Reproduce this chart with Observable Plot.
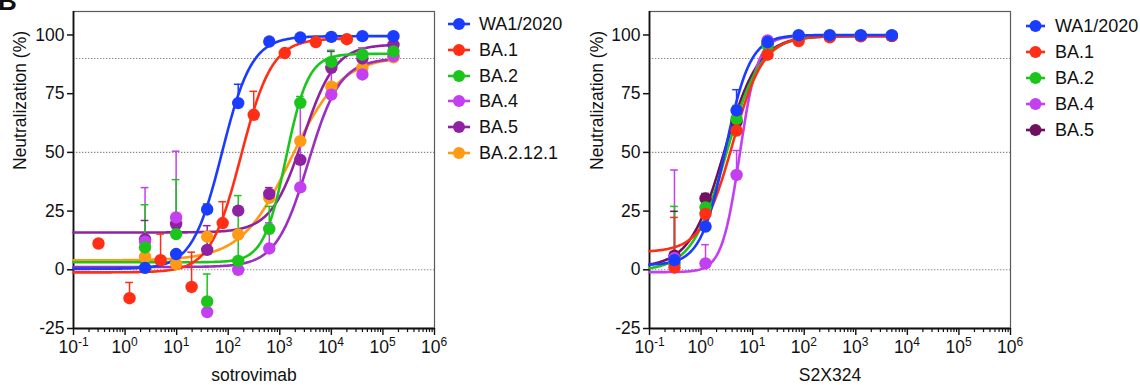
<!DOCTYPE html>
<html>
<head>
<meta charset="utf-8">
<script src="https://cdn.jsdelivr.net/npm/d3@7"></script>
<script src="https://cdn.jsdelivr.net/npm/@observablehq/plot@0.6"></script>
<style>
  html, body { margin: 0; padding: 0; background: #fff; }
  #wrap { position: relative; width: 1140px; height: 385px; overflow: hidden;
          font-family: "Liberation Sans", Arial, sans-serif; color: #111; }
  #wrap svg.panel { position: absolute; top: 0; }
  .legend-row { position: absolute; display: flex; align-items: center; height: 20px;
                font-size: 18px; line-height: 20px; white-space: nowrap; }
  .legend-row svg { display: block; flex: none; }
</style>
</head>
<body>
<div id="wrap"></div>
<script>
// ---- Dilution series (antibody concentration, ng/mL) ----
const concHigh = [2.44, 9.77, 39.1, 156.3, 625, 2500, 10000, 40000, 160000];
const concLow  = [0.305, 1.22, 4.88, 19.5, 78.1, 312.5, 1250, 5000, 20000];
const concS2X  = [0.305, 1.22, 4.88, 19.5, 78.1, 312.5, 1250, 5000];

// ---- Sotrovimab panel ----
const sotroVariants = ["WA1/2020", "BA.1", "BA.2", "BA.4", "BA.5", "BA.2.12.1"];
const sotroColors   = ["#1a3cff", "#ff2e14", "#1cc51c", "#c33ff0", "#8e22a2", "#ff9a14"];
const sotroCurveColors = ["#1a3cff", "#ff2e14", "#1cc51c", "#9c2fbf", "#8e22a2", "#ff9a14"];
const sotroConc = [concHigh, concLow, concHigh, concHigh, concHigh, concHigh];
const sotroMean = [
  [0.8, 6.7, 25.7, 71, 97.2, 98.9, 99.2, 99.5, 99.5],
  [11.2, -12.1, 4.1, -7.3, 19.9, 66, 92.3, 97, 98.2],
  [9.5, 15.2, -13.5, 3.8, 17.4, 71.1, 88.5, 91.6, 93],
  [12, 22.3, -18, 0, 9.1, 35.1, 74.6, 83.2, 91],
  [13, 19.5, 8.5, 25.2, 32.3, 46.8, 86, 90, 95.8],
  [5.5, 2.5, 14.1, 15, 30.6, 54.8, 78, 86, 90.5]
];
const sotroUpper = [
  [null, null, 28, 79, null, null, null, null, null],
  [null, -5.4, 15.2, 7.5, 29, 76, null, null, null],
  [27.7, 38.4, -1.8, 31.6, 27, 73.8, 93.5, null, null],
  [35, 50.5, null, null, 20, 72, 86, 94.5, null],
  [21, null, 18.8, null, 35, null, 93, null, null],
  [null, null, null, null, null, null, null, null, null]
];
// four-parameter logistic fits: [bottom, top, log10 EC50, Hill slope]
const sotroFit = [
  [0.4, 99.5, 1.88, 1.5],
  [-1.1, 98.5, 2.25, 1.45],
  [3.2, 92, 3.12, 2.0],
  [1.2, 90, 3.55, 1.4],
  [15.9, 96, 3.45, 1.4],
  [4, 91, 3.22, 0.9]
];

// ---- S2X324 panel ----
const s2xVariants = ["WA1/2020", "BA.1", "BA.2", "BA.4", "BA.5"];
const s2xColors   = ["#1a3cff", "#ff2e14", "#1cc51c", "#c33ff0", "#701060"];
const s2xMean = [
  [4.1, 18.4, 67.9, 97, 99.9, 99.9, 99.9, 99.9],
  [1, 23.8, 59.3, 91.6, 97.4, 99, 99.4, 99.5],
  [2.5, 26.6, 64.2, 95.5, 99, 99.5, 99.6, 99.6],
  [5, 2.7, 40.4, 97.7, 99.3, 99.5, 99.6, 99.6],
  [6, 30.4, 63, 96, 99, 99.5, 99.6, 99.6]
];
const s2xUpper = [
  [null, null, 76.7, null, null, null, null, null],
  [22.3, null, null, null, null, null, null, null],
  [27, null, 70, null, null, null, null, null],
  [42.5, 10.7, 50.8, null, null, null, null, null],
  [24.9, 32.5, null, null, null, null, null, null]
];
const s2xFit = [
  [2, 100, 0.47, 1.8],
  [7.5, 99.5, 0.61, 1.45],
  [-0.5, 99.7, 0.49, 1.3],
  [-1, 99.5, 0.75, 2.5],
  [1, 99.6, 0.45, 1.3]
];

// ---- Axis ticks ----
const yTicks = [-25, 0, 25, 50, 75, 100];
const refLines = [90, 50, 0];
const decadeExps = [-1, 0, 1, 2, 3, 4, 5, 6];
const minorMultipliers = [2, 3, 4, 5, 6, 7, 8, 9];

const FONT = '"Liberation Sans", Arial, sans-serif';
const wrap = document.getElementById("wrap");

function logistic([bottom, top, logEC50, hill], logx) {
  return bottom + (top - bottom) / (1 + Math.pow(10, (logEC50 - logx) * hill));
}

function buildPanel({variants, colors, curveColors, concs, means, uppers, fits, xLabel,
                     left, width, marginRight, yLabelDx}) {
  const points = [], errors = [], curves = [];
  // draw later series first so WA1/2020 sits on top
  for (let i = variants.length - 1; i >= 0; --i) {
    const conc = concs[i];
    means[i].forEach((v, j) => {
      points.push({variant: variants[i], x: conc[j], y: v, color: colors[i]});
      const u = uppers[i][j];
      if (u != null) errors.push({variant: variants[i], x: conc[j], y: v, top: u, color: colors[i]});
    });
    const lo = -1, hi = Math.log10(d3.max(conc));
    const n = 240;
    for (let k = 0; k <= n; ++k) {
      const lx = lo + (hi - lo) * k / n;
      curves.push({variant: variants[i], x: Math.pow(10, lx), y: logistic(fits[i], lx), color: curveColors[i]});
    }
  }
  const decades = decadeExps.map(e => Math.pow(10, e));
  const minor = [];
  decadeExps.slice(0, -1).forEach(e => minorMultipliers.forEach(m => minor.push(m * Math.pow(10, e))));
  const capF = Math.pow(10, 0.075);

  const svg = Plot.plot({
    width, height: 385,
    marginTop: 11, marginBottom: 57, marginLeft: 73, marginRight,
    x: {type: "log", domain: [0.1, 1e6]},
    y: {domain: [-25, 110]},
    color: {type: "identity"},
    style: {fontFamily: FONT, fontSize: "17.5px", color: "#111", background: "transparent", overflow: "visible"},
    marks: [
      Plot.ruleY(refLines, {stroke: "#8a8a8a", strokeWidth: 1.1, strokeDasharray: "1.4,1.6"}),
      Plot.frame({stroke: "#5a5a5a", strokeWidth: 1.2}),
      Plot.axisY({ticks: yTicks, tickSize: 6, tickPadding: 3, tickFormat: d => String(d),
                  label: null, fontSize: 17.5, strokeWidth: 1.5}),
      Plot.axisX({ticks: decades, tickSize: 7, tickFormat: () => "", label: null, strokeWidth: 1.4}),
      Plot.axisX({ticks: minor, tickSize: 4, tickFormat: () => "", label: null, strokeWidth: 1.2}),
      Plot.ruleX([0.1], {stroke: "#111", strokeWidth: 1.8}),
      Plot.ruleY([-25], {stroke: "#111", strokeWidth: 1.8}),
      // decade labels as 10 with a raised exponent
      Plot.text(decadeExps.filter(e => e < 0), {x: e => Math.pow(10, e), frameAnchor: "bottom",
        text: () => "10", textAnchor: "end", dx: 4.5, dy: 24, fontSize: 17.5}),
      Plot.text(decadeExps.filter(e => e < 0), {x: e => Math.pow(10, e), frameAnchor: "bottom",
        text: e => "-" + (-e), textAnchor: "start", dx: 4.5, dy: 17, fontSize: 12}),
      Plot.text(decadeExps.filter(e => e >= 0), {x: e => Math.pow(10, e), frameAnchor: "bottom",
        text: () => "10", textAnchor: "end", dx: 6, dy: 24, fontSize: 17.5}),
      Plot.text(decadeExps.filter(e => e >= 0), {x: e => Math.pow(10, e), frameAnchor: "bottom",
        text: e => String(e), textAnchor: "start", dx: 6, dy: 17, fontSize: 12}),
      Plot.text([xLabel], {frameAnchor: "bottom", dy: 52, fontSize: 17.5}),
      Plot.text(["Neutralization (%)"], {frameAnchor: "left", dx: yLabelDx, rotate: -90, fontSize: 17.5}),
      // fitted dose-response curves
      Plot.line(curves, {x: "x", y: "y", z: "variant", stroke: "color", strokeWidth: 2.6, curve: "linear"}),
      // upper error bars with caps
      Plot.ruleX(errors, {x: "x", y1: "y", y2: "top", stroke: "color", strokeWidth: 1.5}),
      Plot.ruleY(errors, {y: "top", x1: d => d.x / capF, x2: d => d.x * capF, stroke: "color", strokeWidth: 1.5}),
      // mean values
      Plot.dot(points, {x: "x", y: "y", fill: "color", r: 6.2, stroke: "none"})
    ]
  });
  svg.classList.add("panel");
  svg.style.left = left + "px";
  wrap.appendChild(svg);
}

function buildLegend({variants, colors, lineX0, lineX1, textX, y0, step}) {
  variants.forEach((name, i) => {
    const cy = y0 + i * step;
    const row = document.createElement("div");
    row.className = "legend-row";
    row.style.left = lineX0 + "px";
    row.style.top = (cy - 10) + "px";
    const w = textX - lineX0;
    const cx = (lineX1 - lineX0) / 2;
    row.innerHTML =
      `<svg width="${w}" height="20"><line x1="0" x2="${lineX1 - lineX0}" y1="10" y2="10" stroke="${colors[i]}" stroke-width="2.6"/>` +
      `<circle cx="${cx}" cy="10" r="6" fill="${colors[i]}"/></svg><span>${name}</span>`;
    wrap.appendChild(row);
  });
}

buildPanel({variants: sotroVariants, colors: sotroColors, curveColors: sotroCurveColors,
  concs: sotroConc, means: sotroMean, uppers: sotroUpper, fits: sotroFit, xLabel: "sotrovimab",
  left: 0, width: 440, marginRight: 6, yLabelDx: -53.5});

buildPanel({variants: s2xVariants, colors: s2xColors, curveColors: s2xColors,
  concs: s2xVariants.map(() => concS2X), means: s2xMean, uppers: s2xUpper, fits: s2xFit, xLabel: "S2X324",
  left: 576, width: 441, marginRight: 7, yLabelDx: -52});

buildLegend({variants: sotroVariants, colors: sotroColors, lineX0: 448, lineX1: 470, textX: 479, y0: 24, step: 25.8});
buildLegend({variants: s2xVariants, colors: s2xColors, lineX0: 1026, lineX1: 1045, textX: 1055, y0: 25.7, step: 26});

// panel letter
const tag = document.createElementNS("http://www.w3.org/2000/svg", "svg");
tag.setAttribute("width", "40");
tag.setAttribute("height", "20");
tag.style.cssText = "position:absolute;left:0;top:0";
tag.innerHTML = `<text x="-2" y="10" font-family='${FONT}' font-weight="bold" font-size="26" fill="#111">B</text>`;
wrap.appendChild(tag);
</script>
</body>
</html>
